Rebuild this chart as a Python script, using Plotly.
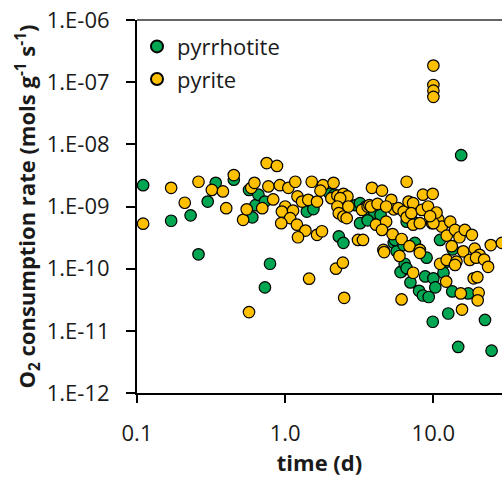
import plotly.graph_objects as go

# Oxygen consumption rates over time for two sulfide minerals
pyrrhotite_time = [0.11, 0.17, 0.23, 0.26, 0.30, 0.34, 0.45, 0.57, 0.60, 0.63, 0.66, 0.73,
                   0.73, 0.79, 1.4, 1.55, 2.0, 2.15, 2.4, 2.3, 2.47, 3.0, 3.2, 3.5, 3.2,
                   3.65, 3.9, 4.0, 4.4, 3.6, 5.4, 5.5, 5.65, 6.1, 6.0, 6.4, 6.6, 6.3, 7.0,
                   7.5, 6.6, 7.3, 8.0, 8.5, 9.3, 8.8, 10.0, 10.3, 11.7, 11.1, 12.3, 13.5,
                   13.4, 17.2, 9.9, 12.6, 22.3, 14.7, 24.7, 15.4, 8.1, 9.0]
pyrrhotite_rate = [2.2e-9, 5.9e-10, 7.2e-10, 1.7e-10, 1.2e-9, 2.4e-9, 2.7e-9, 1.85e-9,
                   6.7e-10, 1.05e-9, 1.55e-9, 5.0e-11, 1.2e-9, 1.2e-10, 8.3e-10, 9.1e-10,
                   1.6e-9, 1.55e-9, 1.5e-9, 3.3e-10, 2.6e-10, 1.05e-9, 1.13e-9, 1.0e-9,
                   5.4e-10, 7.3e-10, 6.5e-10, 8.0e-10, 7.3e-10, 6.0e-10, 2.6e-10, 2.9e-10,
                   1.9e-10, 9.0e-11, 8.8e-11, 1.2e-10, 1.02e-10, 2.4e-10, 6.0e-11, 2.6e-10,
                   5.7e-10, 5.7e-10, 4.4e-11, 3.7e-11, 3.5e-11, 7.5e-11, 7.0e-11, 5.0e-11,
                   8.6e-11, 2.9e-10, 1.3e-10, 2.05e-10, 4.3e-11, 4.0e-11, 1.4e-11, 1.9e-11,
                   1.5e-11, 5.5e-12, 4.8e-12, 6.7e-9, 2.0e-10, 1.5e-10]

pyrite_time = [0.11, 0.17, 0.21, 0.26, 0.32, 0.38, 0.40, 0.45, 0.52, 0.55, 0.59, 0.62,
               0.57, 0.75, 0.88, 0.77, 0.92, 1.05, 1.17, 0.70, 0.83, 1.0, 0.95, 1.13,
               1.08, 0.94, 1.21, 1.3, 1.43, 1.64, 1.51, 1.8, 1.73, 2.12, 2.05, 2.25,
               2.47, 2.63, 2.35, 1.2, 1.37, 1.22, 1.64, 1.77, 2.25, 2.3, 2.47, 2.6,
               2.67, 3.3, 3.6, 3.7, 3.1, 3.35, 3.85, 4.5, 6.6, 8.5, 9.9, 10.0, 10.0,
               10.0, 10.0, 5.2, 3.8, 4.1, 4.8, 4.5, 5.4, 5.8, 6.3, 6.6, 6.8, 7.3, 7.1,
               8.35, 7.3, 8.1, 5.3, 6.1, 6.9, 8.1, 4.6, 9.8, 10.8, 11.4, 13.0, 12.3,
               14.0, 15.0, 16.3, 18.2, 13.3, 15.9, 19.0, 20.5, 24.4, 29.0, 4.65, 5.9,
               8.1, 7.3, 12.2, 11.1, 12.3, 14.3, 14.0, 15.3, 20.2, 19.9, 18.7, 19.8,
               17.6, 19.4, 22.0, 23.4, 6.1, 15.6, 1.45, 2.2, 2.45, 2.5, 10.0, 9.2,
               10.5, 9.5, 4.2, 4.8]
pyrite_rate = [5.3e-10, 2.0e-9, 1.15e-9, 2.5e-9, 1.85e-9, 1.75e-9, 9.4e-10, 3.2e-9,
               6.1e-10, 9.0e-10, 2.0e-9, 2.4e-9, 2.0e-11, 5.0e-9, 4.5e-9, 2.1e-9,
               2.2e-9, 2.0e-9, 2.5e-9, 9.4e-10, 1.3e-9, 1.0e-9, 8.3e-10, 8.6e-10,
               6.5e-10, 5.4e-10, 1.45e-9, 1.2e-9, 1.28e-9, 1.2e-9, 2.5e-9, 2.2e-9,
               1.8e-9, 2.4e-9, 1.36e-9, 1.5e-9, 1.6e-9, 1.45e-9, 1.36e-9, 5.1e-10,
               4.1e-10, 3.2e-10, 3.5e-10, 4.0e-10, 1.0e-9, 7.8e-10, 6.9e-10, 6.5e-10,
               1.0e-9, 8.8e-10, 1.0e-9, 1.05e-9, 2.9e-10, 2.9e-10, 2.0e-9, 1.8e-9,
               2.5e-9, 1.55e-9, 1.6e-9, 1.85e-7, 9.0e-8, 7.3e-8, 5.8e-8, 1.28e-9,
               1.0e-9, 5.1e-10, 5.7e-10, 4.2e-10, 9.0e-10, 9.4e-10, 8.3e-10, 6.7e-10,
               1.2e-9, 1.13e-9, 7.8e-10, 8.8e-10, 5.1e-10, 5.4e-10, 3.6e-10, 3.0e-10,
               2.3e-10, 2.0e-10, 2.0e-10, 5.4e-10, 6.2e-10, 4.75e-10, 5.7e-10, 3.4e-10,
               4.2e-10, 3.2e-10, 4.2e-10, 3.5e-10, 2.3e-10, 1.9e-10, 2.1e-10, 1.67e-10,
               2.4e-10, 2.6e-10, 1.85e-10, 1.6e-10, 1.8e-10, 8.6e-11, 6.2e-11, 1.2e-10,
               1.38e-10, 1.3e-10, 1.15e-10, 4.0e-11, 4.1e-11, 3.1e-11, 7.0e-11, 7.3e-11,
               1.38e-10, 1.5e-10, 1.4e-10, 1.07e-10, 3.2e-11, 2.2e-11, 6.9e-11, 1.0e-10,
               1.25e-10, 3.4e-11, 5.4e-10, 1.0e-9, 8.0e-10, 7.0e-10, 1.1e-9, 1.0e-9]

y_tick_values = [1e-12, 1e-11, 1e-10, 1e-9, 1e-8, 1e-7, 1e-6]
y_tick_labels = ["1.E-12", "1.E-11", "1.E-10", "1.E-09", "1.E-08", "1.E-07", "1.E-06"]
x_tick_values = [0.1, 1, 10]
x_tick_labels = ["0.1", "1.0", "10.0"]

FONT = "Open Sans"
TEXT = "#1a1a1a"
GREEN = "#00A651"
GOLD = "#FFC000"

fig = go.Figure()
fig.add_trace(go.Scatter(
    x=pyrrhotite_time, y=pyrrhotite_rate, mode="markers", name="pyrrhotite",
    legendgroup="a",
    marker=dict(size=11.5, color=GREEN, line=dict(color="black", width=1.2)),
))
fig.add_trace(go.Scatter(
    x=pyrite_time, y=pyrite_rate, mode="markers", name="pyrite",
    legendgroup="b",
    marker=dict(size=11.5, color=GOLD, line=dict(color="black", width=1.2)),
))

fig.update_layout(
    width=502, height=479,
    margin=dict(l=137, r=0, t=20, b=86),
    plot_bgcolor="white", paper_bgcolor="white",
    font=dict(family=FONT, color=TEXT),
    showlegend=True,
    legend=dict(x=0.0, y=0.985, xanchor="left", yanchor="top",
                font=dict(family=FONT, size=22, color=TEXT),
                bgcolor="rgba(0,0,0,0)", tracegroupgap=1, itemsizing="constant"),
    xaxis=dict(
        type="log", range=[-1, 1.463],
        tickvals=x_tick_values, ticktext=x_tick_labels,
        ticks="outside", ticklen=8, tickwidth=1.5, tickcolor="black",
        showline=True, linecolor="black", linewidth=2,
        showgrid=False, zeroline=False,
        tickfont=dict(family=FONT, size=22, color=TEXT),
        ticklabelstandoff=12,
        title=dict(text="<b>time (d)</b>", font=dict(family=FONT, size=22, color=TEXT),
                   standoff=9),
    ),
    yaxis=dict(
        type="log", range=[-12, -6],
        tickvals=y_tick_values, ticktext=y_tick_labels,
        ticks="outside", ticklen=9, tickwidth=1.5, tickcolor="black",
        showline=True, linecolor="black", linewidth=2,
        showgrid=False, zeroline=False,
        tickfont=dict(family=FONT, size=22, color=TEXT),
        ticklabelstandoff=12,
        title=dict(text="<b>O<sub>2</sub> consumption rate (mols g<sup>-1</sup> s<sup>-1</sup>)</b>",
                   font=dict(family=FONT, size=22, color=TEXT), standoff=5),
    ),
    shapes=[dict(type="line", xref="paper", yref="paper", x0=0, x1=1, y0=1, y1=1,
                 line=dict(color="#333333", width=1.3))],
)

fig.write_html("out.html")
